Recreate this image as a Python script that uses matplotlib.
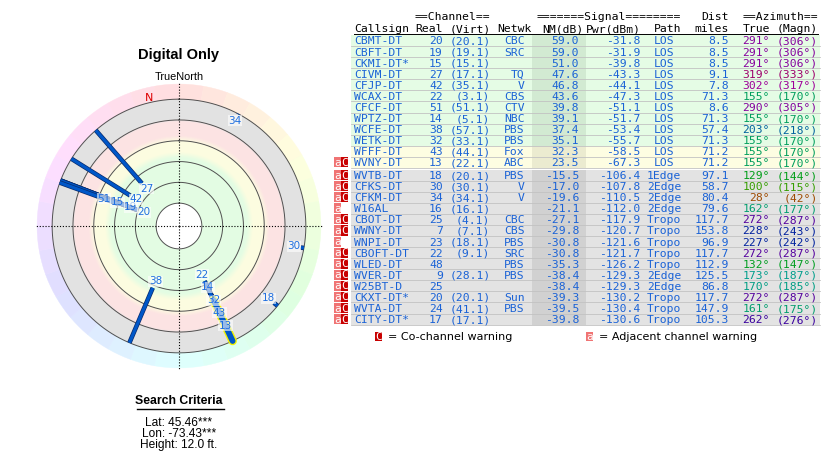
"""Polar plot of TV stations (Digital Only) plus signal table, recreated with matplotlib."""

import colorsys

import matplotlib

matplotlib.use("Agg")
import matplotlib.patheffects as pe
import matplotlib.pyplot as plt
import numpy as np
from matplotlib.colors import to_rgb
from matplotlib.patches import Rectangle

# --- Data ---------------------------------------------------------------------
callsigns = ["CBMT-DT", "CBFT-DT", "CKMI-DT*", "CIVM-DT", "CFJP-DT", "WCAX-DT",
             "CFCF-DT", "WPTZ-DT", "WCFE-DT", "WETK-DT", "WFFF-DT", "WVNY-DT",
             "WVTB-DT", "CFKS-DT", "CFKM-DT", "W16AL", "CBOT-DT", "WWNY-DT",
             "WNPI-DT", "CBOFT-DT", "WLED-DT", "WVER-DT", "W25BT-D", "CKXT-DT*",
             "WVTA-DT", "CITY-DT*"]
real_ch = [20, 19, 15, 27, 42, 22, 51, 14, 38, 32, 43, 13, 18, 30, 34, 16, 25, 7,
           23, 22, 48, 9, 25, 20, 24, 17]
virt_ch = ["20.1", "19.1", "15.1", "17.1", "35.1", "3.1", "51.1", "5.1", "57.1",
           "33.1", "44.1", "22.1", "20.1", "30.1", "34.1", "16.1", "4.1", "7.1",
           "18.1", "9.1", "", "28.1", "", "20.1", "41.1", "17.1"]
network = ["CBC", "SRC", "", "TQ", "V", "CBS", "CTV", "NBC", "PBS", "PBS", "Fox",
           "ABC", "PBS", "V", "V", "", "CBC", "CBS", "PBS", "SRC", "PBS", "PBS",
           "", "Sun", "PBS", ""]
nm_db = [59.0, 59.0, 51.0, 47.6, 46.8, 43.6, 39.8, 39.1, 37.4, 35.1, 32.3, 23.5,
         -15.5, -17.0, -19.6, -21.1, -27.1, -29.8, -30.8, -30.8, -35.3, -38.4,
         -38.4, -39.3, -39.5, -39.8]
pwr_dbm = [-31.8, -31.9, -39.8, -43.3, -44.1, -47.3, -51.1, -51.7, -53.4, -55.7,
           -58.5, -67.3, -106.4, -107.8, -110.5, -112.0, -117.9, -120.7, -121.6,
           -121.7, -126.2, -129.3, -129.3, -130.2, -130.4, -130.6]
path = ["LOS"] * 12 + ["1Edge", "2Edge", "2Edge", "2Edge", "Tropo", "Tropo",
                       "Tropo", "Tropo", "Tropo", "2Edge", "2Edge", "Tropo",
                       "Tropo", "Tropo"]
dist_mi = [8.5, 8.5, 8.5, 9.1, 7.8, 71.3, 8.6, 71.3, 57.4, 71.3, 71.2, 71.2, 97.1,
           58.7, 80.4, 79.6, 117.7, 153.8, 96.9, 117.7, 112.9, 125.5, 86.8, 117.7,
           147.9, 105.3]
az_true = [291, 291, 291, 319, 302, 155, 290, 155, 203, 155, 155, 155, 129, 100,
           28, 162, 272, 228, 227, 272, 132, 173, 170, 272, 161, 262]
az_magn = [306, 306, 306, 333, 317, 170, 305, 170, 218, 170, 170, 170, 144, 115,
           42, 177, 287, 243, 242, 287, 147, 187, 185, 287, 175, 276]
adj_warn = [False] * 11 + [True] * 15
co_warn = [False] * 11 + [True, True, True, True, False, True, True, False, True,
                          True, True, True, True, True, True]
highlight = ["WVNY-DT"]

declination = 15          # magn = true + 15
nm_rings = [80, 60, 40, 20, 0, -20]
nm_cut = -20              # stations below this are not drawn

# --- Figure -------------------------------------------------------------------
W, H = 840, 462
fig = plt.figure(figsize=(W / 100, H / 100), dpi=100)


def fx(x):
    return x / W


def fy(y):
    return 1 - y / H


# overlay in pixel coords for the table and the texts
tab = fig.add_axes([0, 0, 1, 1])
tab.set_xlim(0, W)
tab.set_ylim(H, 0)
tab.set_axis_off()

# --- Polar plot ---------------------------------------------------------------
cx, cy, half = 179, 226, 144
ax = fig.add_axes([fx(cx - half), fy(cy + half), 2 * half / W, 2 * half / H],
                  projection="polar")
ax.set_theta_zero_location("N")
ax.set_theta_direction(-1)
R0 = 102.0                # radial coord = R0 - NM
R_OUT = R0 - nm_cut       # outer circle
RMAX = 138.5
ax.set_rlim(0, RMAX)
ax.set_axis_off()

# soft zones: green / yellow / pink / gray
stop_nm = [-20, -1, 2, 15, 21, 31, 37, 80]
stop_col = ["#e2e2e2", "#e2e2e2", "#fce3e3", "#fce3e3", "#fcfce0", "#fcfce0",
            "#e3fce3", "#e3fce3"]
stop_rgb = np.array([to_rgb(c) for c in stop_col])
steps = np.arange(80, -20, -0.5)
cols = np.column_stack([np.interp(steps, stop_nm, stop_rgb[:, k]) for k in range(3)])
bottoms = R0 - steps
ax.bar(np.zeros(len(steps)), R_OUT - bottoms, width=2 * np.pi, bottom=bottoms,
       color=cols, linewidth=0, zorder=1)
ax.bar(0, R0 - 80, width=2 * np.pi, bottom=0, color="white", linewidth=0, zorder=1)

# outer hue ring
seg = np.arange(0, 360, 10) + 5
ring_cols = [colorsys.hsv_to_rgb(a / 360, 0.13, 1.0) for a in seg]
ax.bar(np.radians(seg), RMAX - 2 - R_OUT, width=np.radians(10), bottom=R_OUT,
       color=ring_cols, edgecolor=ring_cols, linewidth=0.3, zorder=1)

theta = np.linspace(0, 2 * np.pi, 500)
for v in nm_rings:
    ax.plot(theta, np.full_like(theta, R0 - v), color="#505050", lw=0.7, zorder=2)

for a in (0, 90, 180, 270):
    ax.plot([np.radians(a)] * 2, [0, RMAX], color="black", lw=0.8,
            ls=(0, (1, 1.6)), zorder=3)

ax.text(np.radians(360 - declination), R_OUT + 5, "N", color="#dd0000",
        fontsize=8, ha="left", va="center", zorder=6)

# station rays and labels
clusters = []
for i, name in enumerate(callsigns):
    if nm_db[i] <= nm_cut:
        continue
    th = np.radians(az_true[i])
    r_end = R0 - nm_db[i]
    if name in highlight:
        ax.plot([th, th], [r_end, R_OUT], color="#0057c8", lw=4.2,
                solid_capstyle="round", zorder=4,
                path_effects=[pe.Stroke(linewidth=6.2, foreground="#f2f200"),
                              pe.Normal()])
    else:
        ax.plot([th, th], [r_end, R_OUT], color="#0057c8", lw=2.3,
                solid_capstyle="butt", zorder=4,
                path_effects=[pe.Stroke(linewidth=3.3, foreground="#0a2a6a"),
                              pe.Normal()])
    for c in clusters:
        if abs(c[0] - az_true[i]) <= 3:
            break
    else:
        c = [az_true[i], -1e9]
        clusters.append(c)
    r_lab = max(r_end - 6.7, c[1] + 13.5)
    c[1] = r_lab
    ax.text(th, r_lab, str(real_ch[i]), color="#1f6fe0", fontsize=7.5,
            ha="center", va="center", zorder=5,
            bbox=dict(boxstyle="square,pad=0.05", fc="white", ec="none", alpha=0.6))

# --- Left texts ---------------------------------------------------------------
sans = "Liberation Sans"
tab.text(179, 55, "Digital Only", fontsize=10.5, fontweight="bold", family=sans,
         ha="center", va="center")
tab.text(179, 77.5, "TrueNorth", fontsize=7.8, family=sans, ha="center", va="center")
tab.text(179, 401.5, "Search Criteria", fontsize=8.8, fontweight="bold", family=sans,
         ha="center", va="center")
tab.plot([136.5, 223.5], [408.5, 408.5], color="black", lw=1.0)
for k, line in enumerate(["Lat: 45.46***", "Lon: -73.43***", "Height: 12.0 ft."]):
    tab.text(179, 423 + 11 * k, line, fontsize=8.6, family=sans,
             ha="center", va="center")

# --- Table --------------------------------------------------------------------
mono = "DejaVu Sans Mono"
fs = 8.2
x0, cw = 354, 6.82        # left edge and monospace cell width (px)
blue = "#1a62d6"


def col(k):
    return x0 + k * cw


def cell(k, yy, s, ha="right", **kw):
    tab.text(col(k), yy, s, family=mono, fontsize=fs, ha=ha, va="baseline", **kw)


# header rows
cell(20, 20.5, "==Channel==")
cell(48, 20.5, "=======Signal========")
cell(55, 20.5, "Dist")
cell(68, 20.5, "==Azimuth==")
cell(0, 32.0, "Callsign", ha="left")
for k, s in [(13, "Real"), (20, "(Virt)"), (26, "Netwk"), (33.6, "NM(dB)"),
             (42, "Pwr(dBm)"), (48, "Path"), (55, "miles"), (61, "True"),
             (68, "(Magn)")]:
    cell(k, 32.0, s)
tab.plot([x0, col(68)], [34, 34], color="black", lw=0.7)

zone_bg = {"green": ("#e5fce5", "#d2ead2"), "yellow": ("#fdfde2", "#ebebd0"),
           "pink": ("#fde5e5", "#ebd2d2"), "gray": ("#e3e3e3", "#d1d1d1")}


def zone(v):
    if v >= 35:
        return "green"
    if v >= 15:
        return "yellow"
    if v >= 0:
        return "pink"
    return "gray"


rh = 11.08
y = 40.5
prev = None
for i, name in enumerate(callsigns):
    sign = nm_db[i] >= 0
    if prev is not None:
        y += rh + (1.6 if sign != prev else 0)
    prev = sign
    bg, bg_nm = zone_bg[zone(nm_db[i])]
    tab.add_patch(Rectangle((351, y - rh / 2), 820 - 351, rh, fc=bg, ec="none"))
    tab.add_patch(Rectangle((532, y - rh / 2), 586 - 532, rh, fc=bg_nm, ec="none"))
    tab.plot([351, 820], [y + rh / 2, y + rh / 2], color="#c2c2c2", lw=0.6)

    yb = y + 4
    cell(0, yb, name, ha="left", color=blue)
    cell(13, yb, str(real_ch[i]), color=blue)
    if virt_ch[i]:
        cell(20, yb, f"({virt_ch[i]})", color=blue)
    if network[i]:
        cell(25, yb, network[i], color=blue)
    cell(33, yb, f"{nm_db[i]:.1f}", color=blue)
    cell(42, yb, f"{pwr_dbm[i]:.1f}", color=blue)
    tab.text(col(45.5), yb, path[i], family=mono, fontsize=fs, color=blue,
             ha="center", va="baseline")
    cell(55, yb, f"{dist_mi[i]:.1f}", color=blue)
    az_col = colorsys.hsv_to_rgb(az_true[i] / 360, 1.0, 0.62)
    cell(61, yb, f"{az_true[i]}°", color=az_col)
    cell(68, yb, f"({az_magn[i]}°)", color=az_col)

    if adj_warn[i]:
        tab.add_patch(Rectangle((334, y - rh / 2 + 0.5), 7, rh - 1, fc="#f07474", ec="none"))
        tab.text(337.5, y + 3.5, "a", family=mono, fontsize=8, color="white",
                 ha="center", va="baseline")
    if co_warn[i]:
        tab.add_patch(Rectangle((341, y - rh / 2 + 0.5), 7, rh - 1, fc="#c80000", ec="none"))
        tab.text(344.5, y + 3.5, "C", family=mono, fontsize=8, color="white",
                 ha="center", va="baseline")

# legend
ly = 336.5
tab.add_patch(Rectangle((375, ly - 4.5), 6.5, 9, fc="#c80000", ec="none"))
tab.text(378.2, ly + 3.3, "C", family=mono, fontsize=8, color="white",
         ha="center", va="baseline")
tab.text(388, ly, "= Co-channel warning", fontsize=8, ha="left", va="center")
tab.add_patch(Rectangle((586, ly - 4.5), 6.5, 9, fc="#f07474", ec="none"))
tab.text(589.2, ly + 3.3, "a", family=mono, fontsize=8, color="white",
         ha="center", va="baseline")
tab.text(599, ly, "= Adjacent channel warning", fontsize=8, ha="left", va="center")

fig.savefig("out.png", dpi=100)
